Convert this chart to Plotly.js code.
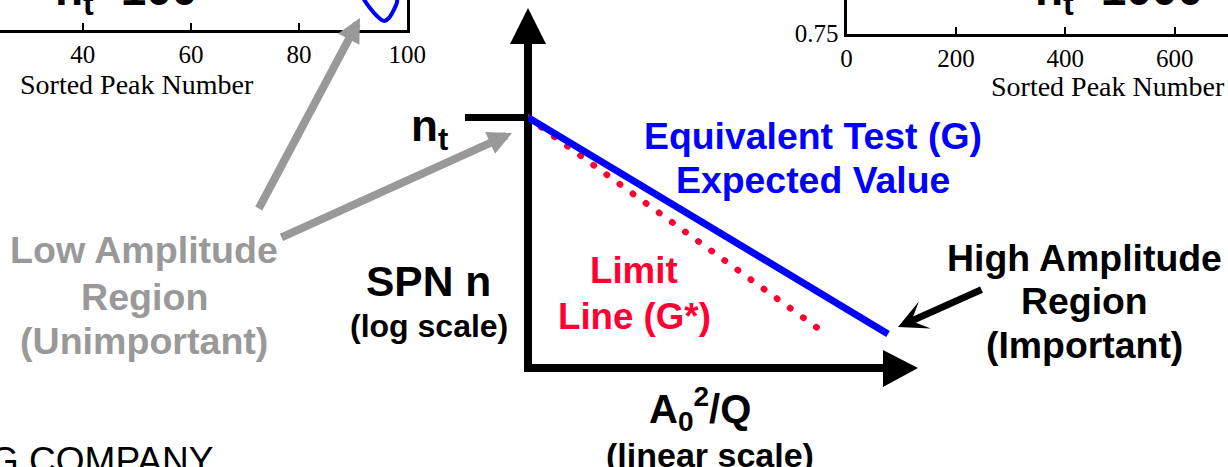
<!DOCTYPE html>
<html>
<head>
<meta charset="utf-8">
<script src="https://cdn.plot.ly/plotly-3.0.1.min.js"></script>
<style>
html,body{margin:0;padding:0;background:#fff;overflow:hidden}
#chart{width:1228px;height:467px}
/* round dots for the dotted limit line */
.scatterlayer .trace:first-child .js-line{stroke-linecap:round}
</style>
</head>
<body>
<div id="chart"></div>
<script>
// ---------- data ----------
// schematic: A0^2/Q (linear, relative) vs SPN n (log)
const amplitudeX = [0, 1];
const equivalentTestN = [1000, 3];      // Equivalent Test (G) expected value
const limitX = [0, 0.805];
const limitN = [1000, 3.5];             // Limit Line (G*)
const ntTickVals = [1000];
const ntTickText = ['<b>n<sub>t</sub></b>'];

// partial inset plots (top left / top right)
const leftTickVals = [40, 60, 80, 100];
const leftTickText = ['40', '60', '80', '100'];
const leftCurveX = [91.8, 93.1, 94.4, 95.7, 96.6, 97.5, 98.1, 98.1];
const leftCurveY = [0.7822, 0.7722, 0.7642, 0.7592, 0.7622, 0.7702, 0.7782, 0.7832];
const rightTickVals = [0, 200, 400, 600];
const rightTickText = ['0', '200', '400', '600'];
const rightYTickVals = [0.75];
const rightYTickText = ['0.75'];
const insetTitles = ['n<sub>t</sub>=100', 'n<sub>t</sub>=1000'];
const insetXTitle = 'Sorted Peak Number';

// ---------- style ----------
const SANS = 'Liberation Sans, Arial, Helvetica, sans-serif';
const SERIF = 'Liberation Serif, Times New Roman, serif';
const BLUE = '#0000ff', RED = '#ff0033', GRAY = '#999999', BLACK = '#000000';
const W = 1228, H = 467;
const px = v => v / W;
const py = v => 1 - v / H;

const traces = [
  {x: limitX, y: limitN, xaxis: 'x', yaxis: 'y', mode: 'lines',
   line: {color: RED, width: 6.5, dash: '0.5px,15.7px'}, hoverinfo: 'skip'},
  {x: amplitudeX, y: equivalentTestN, xaxis: 'x', yaxis: 'y', mode: 'lines',
   line: {color: BLUE, width: 7}, hoverinfo: 'skip'},
  {x: leftCurveX, y: leftCurveY, xaxis: 'x3', yaxis: 'y3', mode: 'lines',
   line: {color: BLUE, width: 4, shape: 'spline'}, hoverinfo: 'skip'},
  {x: [], y: [], xaxis: 'x4', yaxis: 'y4', mode: 'lines', hoverinfo: 'skip'},
  {x: [], y: [], xaxis: 'x2', yaxis: 'y2', mode: 'lines', hoverinfo: 'skip'}
];

const insetAxis = {
  showline: true, linewidth: 3, linecolor: BLACK, showgrid: false, zeroline: false,
  ticks: 'inside', ticklen: 7, tickwidth: 2, tickcolor: BLACK,
  tickfont: {family: SERIF, size: 25, color: BLACK}, fixedrange: true
};

function txt(x, y, text, size, color, extra) {
  return Object.assign({xref: 'x2', yref: 'y2', x: x, y: y, text: text, showarrow: false,
    xanchor: 'center', yanchor: 'middle', align: 'center',
    font: {family: SANS, size: size, color: color}}, extra || {});
}
function arrow(x, y, ax, ay, color, width, head, size) {
  return {xref: 'x2', yref: 'y2', axref: 'x2', ayref: 'y2', x: x, y: y, ax: ax, ay: ay,
    text: '', showarrow: true, arrowcolor: color, arrowwidth: width, arrowhead: head, arrowsize: size};
}
function tri(a, b, c) {
  return 'M ' + px(a[0]) + ',' + py(a[1]) + ' L ' + px(b[0]) + ',' + py(b[1]) +
         ' L ' + px(c[0]) + ',' + py(c[1]) + ' Z';
}

const layout = {
  width: W, height: H, margin: {l: 0, r: 0, t: 0, b: 0},
  paper_bgcolor: '#ffffff', plot_bgcolor: 'rgba(0,0,0,0)', showlegend: false,
  xaxis: {domain: [px(528), px(900)], range: [0, 1.0333], anchor: 'y',
    showline: false, showgrid: false, zeroline: false,
    showticklabels: false, ticks: '', fixedrange: true},
  yaxis: {domain: [py(368), py(30)], type: 'log', range: [0.0807, 4.0197], anchor: 'x',
    showline: false, showgrid: false, zeroline: false,
    tickmode: 'array', tickvals: ntTickVals, ticktext: ntTickText,
    ticks: 'outside', ticklen: 62, tickwidth: 7, tickcolor: BLACK,
    ticklabelshift: 8, ticklabelstandoff: 8,
    tickfont: {family: SANS, size: 44, color: BLACK}, layer: 'below traces', fixedrange: true},
  xaxis2: {domain: [0, 1], range: [0, W], anchor: 'y2', visible: false, fixedrange: true},
  yaxis2: {domain: [0, 1], range: [H, 0], anchor: 'x2', visible: false, fixedrange: true},
  xaxis3: Object.assign({}, insetAxis, {domain: [0, px(407.3)], range: [24.71, 100], anchor: 'y3',
    tickmode: 'array', tickvals: leftTickVals, ticktext: leftTickText}),
  yaxis3: Object.assign({}, insetAxis, {domain: [py(30.2), 1], range: [0.75, 0.7802], anchor: 'x3',
    side: 'right', ticks: '', showticklabels: false}),
  xaxis4: Object.assign({}, insetAxis, {domain: [px(846.5), 1], range: [0, 697.5], anchor: 'y4',
    tickmode: 'array', tickvals: rightTickVals, ticktext: rightTickText}),
  yaxis4: Object.assign({}, insetAxis, {domain: [py(33.5), 1], range: [0.75, 0.7835], anchor: 'x4',
    side: 'left', tickmode: 'array', tickvals: rightYTickVals, ticktext: rightYTickText}),
  shapes: [
    // schematic axes (drawn under the traces)
    {type: 'line', xref: 'paper', yref: 'paper', x0: px(528), x1: px(528), y0: py(372), y1: py(30),
     line: {color: BLACK, width: 8}, layer: 'below'},
    {type: 'line', xref: 'paper', yref: 'paper', x0: px(524), x1: px(900), y0: py(368), y1: py(368),
     line: {color: BLACK, width: 8}, layer: 'below'},
    // arrow heads
    {type: 'path', xref: 'paper', yref: 'paper', path: tri([510, 44], [546, 44], [528, 8]),
     fillcolor: BLACK, line: {width: 0}, layer: 'above'},
    {type: 'path', xref: 'paper', yref: 'paper', path: tri([883, 350], [883, 387], [918, 368]),
     fillcolor: BLACK, line: {width: 0}, layer: 'above'}
  ],
  annotations: [
    txt(813, 136, '<b>Equivalent Test (G)</b>', 37.4, BLUE),
    txt(813, 180, '<b>Expected Value</b>', 37.4, BLUE),
    txt(634, 270, '<b>Limit</b>', 36.7, RED),
    txt(634, 316, '<b>Line (G*)</b>', 36.7, RED),
    txt(428, 281, '<b>SPN n</b>', 42.5, BLACK),
    txt(429, 326, '<b>(log scale)</b>', 32, BLACK),
    txt(144, 250, '<b>Low Amplitude</b>', 37.6, GRAY),
    txt(144, 297, '<b>Region</b>', 37.6, GRAY),
    txt(144, 341, '<b>(Unimportant)</b>', 37.6, GRAY),
    txt(1084, 258, '<b>High Amplitude</b>', 37.4, BLACK),
    txt(1084, 301, '<b>Region</b>', 37.4, BLACK),
    txt(1084, 345, '<b>(Important)</b>', 37.4, BLACK),
    txt(700, 409, '<b>A<sub>0</sub><sup>2</sup>/Q</b>', 40, BLACK),
    txt(710, 455, '<b>(linear scale)</b>', 34, BLACK),
    txt(215, 460, 'G COMPANY', 37, BLACK, {xanchor: 'right'}),
    txt(53, 24, '<b>' + insetTitles[0] + '</b>', 46, BLACK, {xanchor: 'left', yanchor: 'bottom'}),
    txt(1033, 24, '<b>' + insetTitles[1] + '</b>', 46, BLACK, {xanchor: 'left', yanchor: 'bottom'}),
    txt(137, 84, insetXTitle, 28, BLACK, {font: {family: SERIF, size: 28, color: BLACK}}),
    txt(1108, 86, insetXTitle, 28, BLACK, {font: {family: SERIF, size: 28, color: BLACK}}),
    arrow(898, 327, 983, 289, BLACK, 7, 3, 0.7),
    arrow(360, 18, 258, 210, GRAY, 8, 2, 0.6),
    arrow(512, 133, 280, 238, GRAY, 8, 2, 0.6)
  ]
};

Plotly.newPlot('chart', traces, layout, {staticPlot: true, displayModeBar: false});
</script>
</body>
</html>
